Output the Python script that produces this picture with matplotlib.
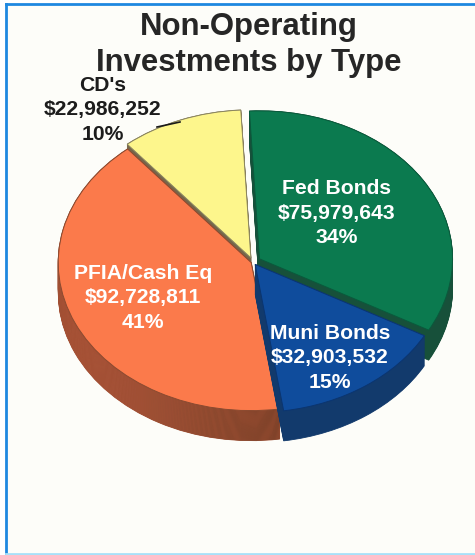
import matplotlib
matplotlib.use('Agg')
import matplotlib.pyplot as plt
from matplotlib.colors import LinearSegmentedColormap
from matplotlib.lines import Line2D
import numpy as np

names = ['Fed Bonds', 'Muni Bonds', 'PFIA/Cash Eq', "CD's"]
amounts = [75979643, 32903532, 92728811, 22986252]
percents = ['34%', '15%', '41%', '10%']

top_colors = ['#0b7a4f', '#0f4c9c', '#fb7a4b', '#fdf68c']
side_colors = ['#17503a', '#123a6c', '#a04f33', '#75664a']
edge_colors = ['#0a5a3c', '#0b3570', '#8a4a30', '#8a8560']
explode = [0.04, 0.02, 0.01, 0.03]
draw_order = [3, 0, 2, 1]   # back slices first

W, H = 475, 555
plt.rcParams['font.family'] = ['Liberation Sans', 'DejaVu Sans']
fig = plt.figure(figsize=(W / 100, H / 100), dpi=100, facecolor='white')

# paper with the blue frame
frame = fig.add_axes([5.5 / W, 1 / H, (W + 20) / W, 550.5 / H], facecolor='#fdfdf9')
frame.set_xticks([])
frame.set_yticks([])
frame.spines['left'].set_color('#1e88e0')
frame.spines['top'].set_color('#1e88e0')
frame.spines['bottom'].set_color('#a8e0f8')
frame.spines['right'].set_visible(False)
for s in ['left', 'top', 'bottom']:
    frame.spines[s].set_linewidth(2)

ax = fig.add_axes([0, 0, 1, 1])
ax.patch.set_visible(False)

# side of the orange slice gets darker towards the right
side_cmap = LinearSegmentedColormap.from_list('side', ['#bd5f42', '#a5533a', '#84472d', '#6a3a24'])
ramp = np.linspace(0, 1, 128).reshape(1, -1)

depth = 0.203
layers = np.linspace(depth, 0, 32)
for n, d in enumerate(layers):
    wedges, _ = ax.pie(amounts, explode=explode, startangle=93, counterclock=False,
                       colors=side_colors, center=(0, -d), radius=1,
                       wedgeprops={'linewidth': 0.6})
    for i, w in enumerate(wedges):
        w.set_edgecolor(side_colors[i])
        w.set_zorder(2 + 2 * draw_order.index(i) + n / 100)
    im = ax.imshow(ramp, cmap=side_cmap, extent=(-1.05, 0.2, -1.3, 1.0), aspect='auto',
                   zorder=wedges[2].get_zorder() + 0.001)
    im.set_clip_path(wedges[2])

wedges, _ = ax.pie(amounts, explode=explode, startangle=93, counterclock=False,
                   colors=top_colors, radius=1, wedgeprops={'linewidth': 0.7})
for i, w in enumerate(wedges):
    w.set_edgecolor(edge_colors[i])
    w.set_zorder(3 + 2 * draw_order.index(i))

# squash the circle to an ellipse, 193 x 148 pixels
cx, cy, rx, ry = 253, 262, 193, 148
ax.set_aspect('auto')
ax.set_xlim(-cx / rx, (W - cx) / rx)
ax.set_ylim(-(H - cy) / ry, cy / ry)


def px_text(x, y, s, **kw):
    fig.text(x / W, 1 - y / H, s, ha='center', va='center', fontweight='bold', zorder=20, **kw)


px_text(249, 27, 'Non-Operating', fontsize=22.4, color='#262626')
px_text(249, 63, 'Investments by Type', fontsize=22.4, color='#262626')

label_pos = [(337, 213), (330, 358), (143, 298), (103, 110)]
label_cols = ['white', 'white', 'white', '#1c1c1c']
for i in range(4):
    s = names[i] + '\n' + '${:,}'.format(amounts[i]) + '\n' + percents[i]
    px_text(label_pos[i][0], label_pos[i][1], s, fontsize=15.2, color=label_cols[i],
            linespacing=1.38, multialignment='center')

# bit of leader line left on the yellow slice
fig.add_artist(Line2D([157 / W, 180 / W], [1 - 127 / H, 1 - 122 / H], color='#1a1a1a', lw=1.2, zorder=15))

fig.savefig('out.png', dpi=100)
